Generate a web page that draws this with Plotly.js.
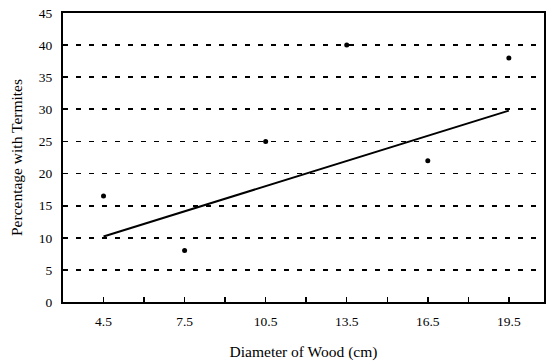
<!DOCTYPE html>
<html>
<head>
<meta charset="utf-8">
<script src="https://cdn.plot.ly/plotly-3.0.1.min.js"></script>
<style>html,body{margin:0;padding:0;background:#fff;}#chart{width:553px;height:364px;}</style>
</head>
<body>
<div id="chart"></div>
<script>
const diameters = [4.5, 7.5, 10.5, 13.5, 16.5, 19.5];
const percentTermites = [16.5, 8, 25, 40, 22, 38];
const trendX = [4.5, 19.5];
const trendY = [10.2, 29.8];
const xTickVals = [4.5, 6, 7.5, 9, 10.5, 12, 13.5, 15, 16.5, 18, 19.5];
const xTickText = ['4.5', '', '7.5', '', '10.5', '', '13.5', '', '16.5', '', '19.5'];
const yTickVals = [0, 5, 10, 15, 20, 25, 30, 35, 40, 45];

const serif = 'Liberation Serif, Times New Roman, serif';

const data = [
  {x: trendX, y: trendY, mode: 'lines', type: 'scatter',
   line: {color: '#000', width: 2}, hoverinfo: 'skip'},
  {x: diameters, y: percentTermites, mode: 'markers', type: 'scatter',
   marker: {color: '#000', size: 5}}
];

const layout = {
  width: 553, height: 364,
  margin: {l: 63, r: 9, t: 13, b: 62},
  paper_bgcolor: '#fff', plot_bgcolor: '#fff',
  showlegend: false,
  font: {family: serif, color: '#000', size: 13.5},
  xaxis: {
    range: [3, 20.8],
    tickvals: xTickVals, ticktext: xTickText,
    ticks: 'inside', ticklen: 5, tickwidth: 1.5, tickcolor: '#000',
    showgrid: false, zeroline: false,
    showline: true, linecolor: '#000', linewidth: 2, mirror: true,
    tickfont: {family: serif, size: 13.5},
    ticklabelstandoff: 6,
    title: {text: 'Diameter of Wood (cm)', font: {family: serif, size: 15.5}, standoff: 18}
  },
  yaxis: {
    range: [0, 45],
    tickvals: yTickVals,
    ticks: '', showgrid: true, gridcolor: '#000', gridwidth: 1.8,
    griddash: '5px,8px',
    zeroline: false,
    showline: true, linecolor: '#000', linewidth: 2, mirror: true,
    tickfont: {family: serif, size: 13.5},
    ticklabelstandoff: 6,
    title: {text: 'Percentage with Termites', font: {family: serif, size: 15.5}, standoff: 12}
  }
};

Plotly.newPlot('chart', data, layout, {staticPlot: true, displayModeBar: false});
</script>
</body>
</html>
